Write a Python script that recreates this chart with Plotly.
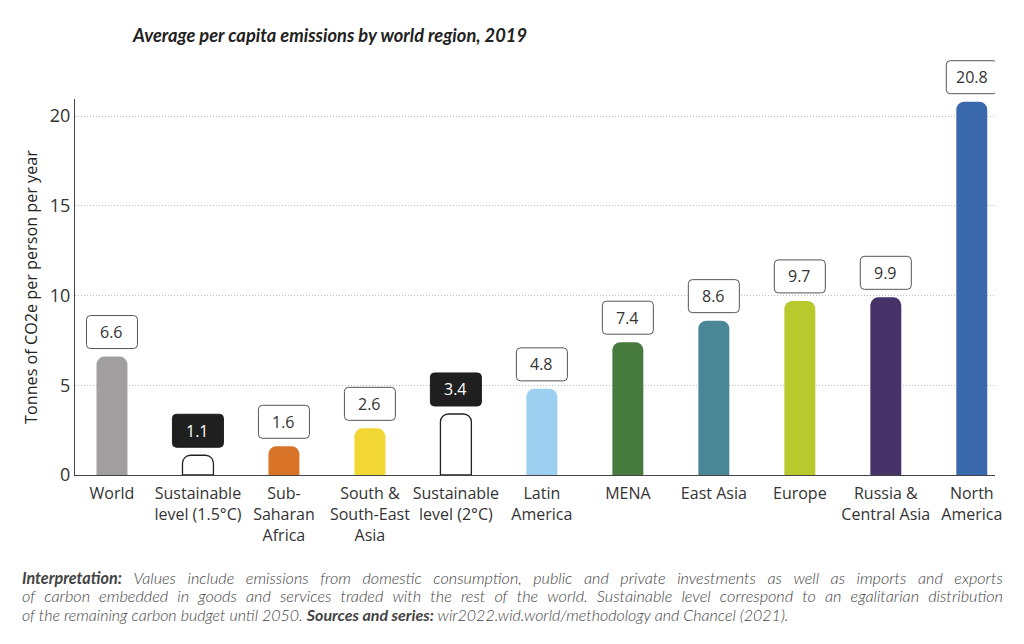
import plotly.graph_objects as go

categories = ["World", "Sustainable<br>level (1.5°C)", "Sub-<br>Saharan<br>Africa",
              "South &<br>South-East<br>Asia", "Sustainable<br>level (2°C)", "Latin<br>America",
              "MENA", "East Asia", "Europe", "Russia &<br>Central Asia", "North<br>America"]
values = [6.6, 1.1, 1.6, 2.6, 3.4, 4.8, 7.4, 8.6, 9.7, 9.9, 20.8]
labels = ["6.6", "1.1", "1.6", "2.6", "3.4", "4.8", "7.4", "8.6", "9.7", "9.9", "20.8"]
is_sustainable = [False, True, False, False, True, False, False, False, False, False, False]
colors = ["#a09e9e", "#ffffff", "#d97327", "#f2d633", "#ffffff", "#9dcff0",
          "#477a3d", "#4a8796", "#b8c92e", "#463469", "#3a68ad"]

note_lines = [
    "<b><i>Interpretation:</i></b><i> Values include emissions from domestic consumption, public and private investments as well as imports and exports</i>",
    "<i>of carbon embedded in goods and services traded with the rest of the world. Sustainable level correspond to an egalitarian distribution</i>",
    "<i>of the remaining carbon budget until 2050. </i><b><i>Sources and series:</i></b><i> wir2022.wid.world/methodology and Chancel (2021).</i>",
]
# word gap used to imitate the justified paragraph of the original
note_gaps = [" \u2002", " \u2004", " "]
note_sizes = [16.2, 16.25, 16]

YMAX = 20.95
xs = list(range(len(categories)))

fig = go.Figure()
fig.add_trace(go.Bar(
    x=xs, y=values, width=0.36,
    marker=dict(color=colors,
                line=dict(color=["#222" if s else c for s, c in zip(is_sustainable, colors)],
                          width=[1.3 if s else 0 for s in is_sustainable]),
                cornerradius=8),
    hoverinfo="skip",
))

# rounded label boxes (pixel-sized, anchored at each bar top)
w2, b0, b1, r = 25.5, 8, 41, 4
path = (f"M {-w2+r},{b0} L {w2-r},{b0} Q {w2},{b0} {w2},{b0+r} L {w2},{b1-r} "
        f"Q {w2},{b1} {w2-r},{b1} L {-w2+r},{b1} Q {-w2},{b1} {-w2},{b1-r} "
        f"L {-w2},{b0+r} Q {-w2},{b0} {-w2+r},{b0} Z")
for x, v, lab, s in zip(xs, values, labels, is_sustainable):
    fig.add_shape(type="path", xref="x", yref="paper", xsizemode="pixel", ysizemode="pixel",
                  xanchor=x, yanchor=v / YMAX, path=path,
                  fillcolor="#1f1f1f" if s else "white",
                  line=dict(color="#1f1f1f" if s else "#555", width=1), layer="above")
    fig.add_annotation(x=x, y=v, yshift=(b0 + b1) / 2, text=lab, showarrow=False,
                       xanchor="center", yanchor="middle",
                       font=dict(family="Open Sans", size=16, color="white" if s else "#333"))

fig.add_annotation(xref="paper", yref="paper", x=0.0598, y=1.17, xanchor="left", yanchor="middle",
                   text="<b><i>Average per capita emissions by world region, 2019</i></b>",
                   showarrow=False, font=dict(family="Lato", size=18.3, color="#222"))

for i, (line, gap, sz) in enumerate(zip(note_lines, note_gaps, note_sizes)):
    fig.add_annotation(xref="paper", yref="paper", x=-0.06, y=-0.2713 - i * 0.0505,
                       xanchor="left", yanchor="middle", align="left", showarrow=False,
                       text=line.replace(" ", gap) if gap != " " else line,
                       font=dict(family="Lato", size=sz, color="#444", weight=300))

fig.update_layout(
    width=1016, height=636,
    margin=dict(l=67, r=29, t=91, b=169),
    plot_bgcolor="white", paper_bgcolor="white",
    showlegend=False,
    xaxis=dict(tickmode="array", tickvals=xs, ticktext=categories, range=[-0.43, 10.27],
               showgrid=False, showline=True, linecolor="#444", linewidth=1.2,
               ticks="", ticklabelstandoff=4,
               tickfont=dict(family="Open Sans", size=16, color="#333"), zeroline=False),
    yaxis=dict(range=[0, YMAX], tickvals=[0, 5, 10, 15, 20], showgrid=True,
               gridcolor="#bdbdbd", griddash="1px,2px", gridwidth=1,
               showline=True, linecolor="#444", linewidth=1.2, ticks="", zeroline=False,
               tickfont=dict(family="Open Sans", size=18, color="#333"),
               title=dict(text="Tonnes of CO2e per person per year", standoff=8,
                          font=dict(family="Open Sans", size=16.2, color="#222"))),
)

fig.write_html("out.html")
